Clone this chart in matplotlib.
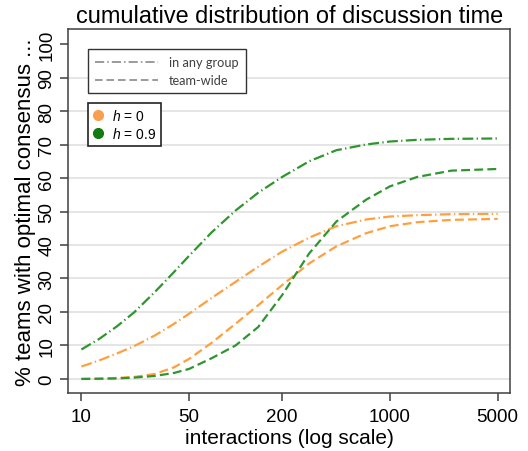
import matplotlib
matplotlib.use("Agg")
import matplotlib.pyplot as plt
from matplotlib.lines import Line2D

plt.rcParams['font.family'] = ['Liberation Sans', 'DejaVu Sans']
plt.rcParams['mathtext.fontset'] = 'custom'
plt.rcParams['mathtext.it'] = 'Liberation Sans:italic'
plt.rcParams['mathtext.rm'] = 'Liberation Sans'

# interactions (log scale)
x = [10, 13, 17, 22, 30, 40, 50, 70, 100, 140, 200, 300, 450, 700, 1000, 1500, 2500, 5000]

# % teams with optimal consensus
h0_any = [3.7, 5.5, 7.6, 9.8, 13.0, 16.5, 19.5, 24.2, 29.0, 33.5, 38.0, 42.2, 45.6, 47.6, 48.5, 48.9, 49.2, 49.3]
h0_team = [0.0, 0.1, 0.3, 0.6, 1.5, 3.5, 6.0, 10.8, 16.5, 22.0, 28.0, 34.5, 39.6, 43.5, 45.6, 46.8, 47.5, 47.8]
h09_any = [8.8, 11.9, 15.7, 19.9, 26.0, 32.0, 36.8, 43.8, 50.3, 55.6, 60.3, 65.0, 68.3, 70.0, 70.9, 71.4, 71.7, 71.8]
h09_team = [0.0, 0.05, 0.15, 0.4, 0.9, 1.8, 3.0, 6.2, 10.0, 15.5, 25.0, 37.5, 47.0, 53.5, 57.5, 60.3, 62.2, 62.7]

xticks = [10, 50, 200, 1000, 5000]
yticks = list(range(0, 101, 10))

orange = '#FFA040'
green = '#2F952F'
dashdot = (0, (4.9, 1.5, 0.6, 1.5))
dashed = (0, (4.0, 1.9))

fig = plt.figure(figsize=(5.28, 4.52), dpi=100)
ax = fig.add_axes([68 / 528, 1 - 394 / 452, (510 - 68) / 528, (394 - 30) / 452])

for yv in yticks[:-1]:
    ax.axhline(yv, color='#E3E3E3', lw=1.3, zorder=0)

lw = 1.6
ax.plot(x, h0_any, color=orange, lw=lw, ls=dashdot)
ax.plot(x, h0_team, color=orange, lw=lw, ls=dashed)
ax.plot(x, h09_any, color=green, lw=lw, ls=dashdot)
ax.plot(x, h09_team, color=green, lw=lw, ls=dashed)

ax.set_xscale('log')
ax.set_xlim(8.19, 6010)
ax.set_ylim(-4.2, 104.5)
ax.set_xticks(xticks)
ax.set_xticklabels([str(v) for v in xticks])
ax.minorticks_off()
ax.set_yticks(yticks)
ax.tick_params(axis='both', direction='out', length=6, width=1.1, color='#404040',
               labelsize=13.5, pad=3)
ax.tick_params(axis='x', pad=5)
plt.setp(ax.get_yticklabels(), rotation=90, va='center')
for s in ax.spines.values():
    s.set_color('#404040')
    s.set_linewidth(1.1)

fig.text(290 / 528, 1 - 23 / 452, 'cumulative distribution of discussion time',
         fontsize=16.9, ha='center', va='baseline')
ax.set_xlabel('interactions (log scale)', fontsize=15, labelpad=2)
ax.set_ylabel('% teams with optimal consensus ...', fontsize=16, labelpad=2)

gray = '#808080'
h1 = [Line2D([], [], color=gray, lw=1.1, ls=(0, (6, 2, 1, 2))),
      Line2D([], [], color=gray, lw=1.1, ls=(0, (5, 2.5)))]
leg1 = ax.legend(h1, ['in any group', 'team-wide'], loc='upper left',
                 bbox_to_anchor=(88 / 528, 1 - 50 / 452), bbox_transform=fig.transFigure,
                 borderaxespad=0, fancybox=False, edgecolor='#333333', framealpha=1,
                 handlelength=4.9, handletextpad=0.9, borderpad=0.55, labelspacing=0.5,
                 prop={'family': 'Lato', 'size': 9.2})
leg1.get_frame().set_linewidth(1.0)
for t in leg1.get_texts():
    t.set_color('#404040')
ax.add_artist(leg1)

h2 = [Line2D([], [], marker='o', ls='none', color='#F8A050', markersize=7),
      Line2D([], [], marker='o', ls='none', color='#117A11', markersize=7)]
leg2 = ax.legend(h2, ['$h$ = 0', '$h$ = 0.9'], loc='upper left',
                 bbox_to_anchor=(88 / 528, 1 - 104 / 452), bbox_transform=fig.transFigure,
                 borderaxespad=0, fancybox=False, edgecolor='#222222', framealpha=1,
                 handlelength=0.8, handletextpad=0.6, borderpad=0.35, labelspacing=0.2,
                 prop={'size': 10})
leg2.get_frame().set_linewidth(1.2)

fig.savefig('out.png', dpi=100)
